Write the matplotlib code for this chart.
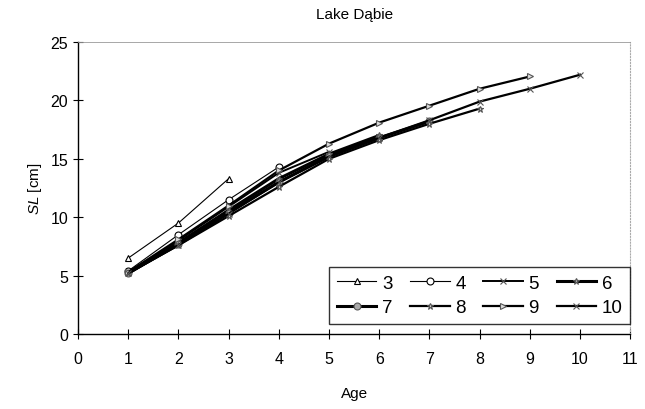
import matplotlib.pyplot as plt

plt.rcParams['font.family'] = ['Liberation Sans', 'DejaVu Sans']
plt.rcParams['mathtext.fontset'] = 'custom'
plt.rcParams['mathtext.it'] = 'Liberation Sans:italic'
plt.rcParams['mathtext.rm'] = 'Liberation Sans'

# =========================
# data
# =========================
ages = [1, 2, 3, 4, 5, 6, 7, 8, 9, 10]

sl_3 = [6.5, 9.5, 13.3]
sl_4 = [5.4, 8.5, 11.5, 14.3]
sl_5 = [5.3, 8.0, 10.9, 13.8, 15.6]
sl_6 = [5.2, 7.8, 10.6, 13.3, 15.4, 17.0]
sl_7 = [5.2, 7.7, 10.4, 13.0, 15.2, 16.8, 18.2]
sl_8 = [5.2, 7.6, 10.1, 12.6, 15.0, 16.6, 18.0, 19.3]
sl_9 = [5.3, 8.1, 11.0, 14.0, 16.3, 18.1, 19.55, 21.0, 22.05]
sl_10 = [5.2, 7.6, 10.3, 13.0, 15.2, 16.8, 18.3, 19.9, 21.0, 22.2]

series = {"3": sl_3, "4": sl_4, "5": sl_5, "6": sl_6,
          "7": sl_7, "8": sl_8, "9": sl_9, "10": sl_10}

# style per series: marker, linewidth, marker face
styles = {
    "3": ("^", 0.8, "white"),
    "4": ("o", 0.8, "white"),
    "5": ("x", 1.4, "black"),
    "6": ("*", 2.2, "#aaaaaa"),
    "7": ("o", 2.2, "#aaaaaa"),
    "8": ("*", 1.6, "#cccccc"),
    "9": (">", 1.6, "#dddddd"),
    "10": ("x", 1.6, "#999999"),
}

# =========================
# plot
# =========================
fig = plt.figure(figsize=(6.45, 4.1), dpi=100)
ax = fig.add_axes([0.121, 0.183, 0.856, 0.712])

handles = {}
for name, vals in series.items():
    mk, lw, fc = styles[name]
    h, = ax.plot(ages[:len(vals)], vals, color="black", lw=lw,
                 marker=mk, ms=5, mfc=fc, mec="#555555" if fc != "white" else "black",
                 mew=0.8, label=name)
    handles[name] = h

ax.set_xlim(0, 11)
ax.set_ylim(0, 25)
ax.set_xticks(range(0, 12))
ax.set_yticks(range(0, 26, 5))
ax.tick_params(direction="inout", length=7, width=0.8, labelsize=11.5, color="black")
ax.tick_params(axis="x", pad=9)

for s in ["left", "bottom"]:
    ax.spines[s].set_linewidth(1.0)
ax.spines["top"].set_color("#999999")
ax.spines["top"].set_linewidth(0.6)
ax.spines["right"].set_color("#aaaaaa")
ax.spines["right"].set_linestyle(":")

ax.set_title("Lake Dąbie", fontsize=11, pad=17)
ax.set_xlabel("Age", fontsize=11, labelpad=14)
ax.set_ylabel(r"$\it{SL}$ [cm]", fontsize=11, labelpad=5)

order = ["3", "7", "4", "8", "5", "9", "6", "10"]
ax.legend([handles[k] for k in order], order, ncol=4, loc="lower right",
          bbox_to_anchor=(1.0, 0.035), borderaxespad=0.0, frameon=True,
          fancybox=False, edgecolor="black", fontsize=13.5, handlelength=2.1,
          handletextpad=0.3, columnspacing=0.95, borderpad=0.4, labelspacing=0.4)

fig.savefig("out.png", dpi=100)
